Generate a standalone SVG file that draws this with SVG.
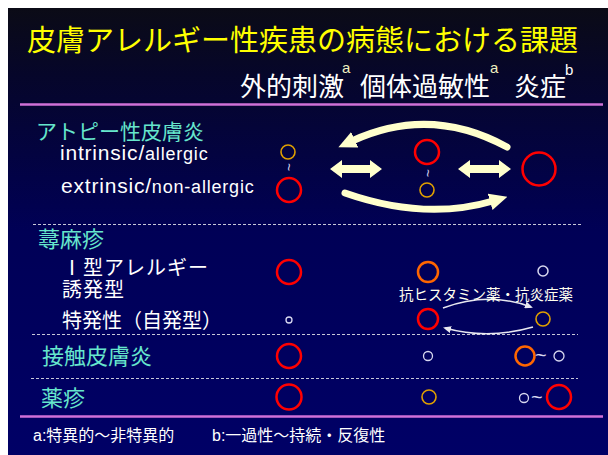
<svg xmlns="http://www.w3.org/2000/svg" width="608" height="455" viewBox="0 0 608 455">
<defs>
<linearGradient id="bg" x1="0" y1="0" x2="0" y2="1">
<stop offset="0" stop-color="#0b0b16"/>
<stop offset="0.15" stop-color="#06062a"/>
<stop offset="0.5" stop-color="#000056"/>
<stop offset="1" stop-color="#000066"/>
</linearGradient>
<marker id="bigHead" viewBox="0 0 18 17" refX="3" refY="8.5" markerWidth="18" markerHeight="17" markerUnits="userSpaceOnUse" orient="auto">
<path d="M0 0 L18 8.5 L0 17 Z" fill="#ffffcc"/>
</marker>
<marker id="smallHead" viewBox="0 0 8 7" refX="6" refY="3.5" markerWidth="8" markerHeight="7" markerUnits="userSpaceOnUse" orient="auto">
<path d="M0 0 L8 3.5 L0 7 Z" fill="#e8e8f0"/>
</marker>
</defs>
<style>
.jp{font-family:"Liberation Sans","Noto Sans CJK JP",sans-serif;}
.title{font-size:29px;fill:#ffff00;}
.sub{font-size:26px;fill:#ffffff;}
.sup{font-size:15px;font-family:"Liberation Sans",sans-serif;}
.head{font-size:22px;fill:#66e6cc;}
.lbl{font-size:20px;fill:#ffffff;}
.en{font-family:"Liberation Sans",sans-serif;fill:#ffffff;letter-spacing:0.8px;}
.foot{font-size:16px;fill:#ffffff;}
.red{fill:none;stroke:#ff0000;stroke-width:2.5;}
.orange{fill:none;stroke:#ff6600;stroke-width:2.5;}
.gold{fill:none;stroke:#e0a000;stroke-width:1.6;}
.tiny{fill:none;stroke:#d8d8f0;stroke-width:1.3;}
.purple{stroke:#d070d8;stroke-width:2.5;}
.dash{stroke:#c8c8d8;stroke-width:1;stroke-dasharray:3 2;}
.wave{font-family:"Liberation Sans",sans-serif;fill:#d8d8f0;}
.big{fill:none;stroke:#ffffcc;stroke-width:7;stroke-linecap:round;}
.thin{fill:none;stroke:#e8e8f0;stroke-width:1.5;}
.block{fill:#ffffcc;}
</style>
<rect x="0" y="0" width="608" height="455" fill="#ffffff"/>
<rect x="8" y="8" width="600" height="447" fill="url(#bg)"/>

<g id="title"><text class="jp title" x="27" y="51">皮膚アレルギー性疾患の病態における課題</text></g>

<g id="col-headers">
<text class="jp sub" x="240" y="96">外的刺激</text>
<text class="sup" x="342" y="73" fill="#f0f0c0">a</text>
<text class="jp sub" x="360" y="96">個体過敏性</text>
<text class="sup" x="490" y="73" fill="#f0f0c0">a</text>
<text class="jp sub" x="514" y="96">炎症</text>
<text class="sup" x="565" y="75" fill="#ffffff">b</text>
</g>

<g id="rules">
<line class="purple" x1="20" y1="104.5" x2="603" y2="104.5"/>
<line class="dash" x1="33" y1="224.5" x2="582" y2="224.5"/>
<line class="dash" x1="32" y1="334.5" x2="578" y2="334.5"/>
<line class="dash" x1="31" y1="378.5" x2="578" y2="378.5"/>
<line class="purple" x1="20" y1="416.5" x2="603" y2="416.5"/>
</g>

<g id="row-atopy">
<text class="jp head" x="36" y="139" style="font-size:21px">アトピー性皮膚炎</text>
<text class="en" x="60" y="160"><tspan font-size="21">intrinsic/</tspan><tspan font-size="18">allergic</tspan></text>
<text class="en" x="61" y="193"><tspan font-size="21">extrinsic/</tspan><tspan font-size="18">non-allergic</tspan></text>
<circle class="gold" cx="288" cy="152" r="7"/>
<text class="wave" font-size="14" transform="translate(288 167) rotate(90)" text-anchor="middle" dy="4">~</text>
<circle class="red" cx="289" cy="190" r="12"/>
<circle class="red" cx="427" cy="152" r="12"/>
<text class="wave" font-size="14" transform="translate(427 173) rotate(90)" text-anchor="middle" dy="4">~</text>
<circle class="gold" cx="427" cy="190" r="7"/>
<circle class="red" cx="539" cy="169" r="16.5"/>
</g>

<g id="connectors">
<polygon class="block" points="330,169 342,160 342,165 370,165 370,160 382,169 370,178 370,173 342,173 342,178"/>
<polygon class="block" points="458,169 470,160 470,165 499,165 499,160 511,169 499,178 499,173 470,173 470,178"/>
<path class="big" d="M507 147 Q430 105 352 141" marker-end="url(#bigHead)"/>
<path class="big" d="M345 193 Q425 221 493 201" marker-end="url(#bigHead)"/>
<path class="thin" d="M443 308 Q488 291 531 307" marker-end="url(#smallHead)"/>
<path class="thin" d="M533 327 Q488 340 445 328" marker-end="url(#smallHead)"/>
</g>

<g id="row-urticaria">
<text class="jp head" x="38" y="247">蕁麻疹</text>
<text class="jp lbl" x="62" y="275" style="letter-spacing:1px">Ⅰ型アレルギー</text>
<text class="jp lbl" x="62" y="297" style="letter-spacing:1px">誘発型</text>
<text class="jp lbl" x="62" y="328">特発性（自発型）</text>
<circle class="red" cx="289" cy="272" r="12"/>
<circle class="tiny" cx="289" cy="320" r="3"/>
<circle class="orange" cx="428" cy="272" r="10"/>
<circle class="tiny" cx="543" cy="271" r="5" style="stroke-width:1.5"/>
<text class="jp" x="399" y="300" style="font-size:14.5px;fill:#ffffee">抗ヒスタミン薬・抗炎症薬</text>
<circle class="red" cx="428" cy="319" r="10"/>
<circle class="gold" cx="543" cy="319" r="7"/>
</g>

<g id="row-contact">
<text class="jp head" x="42" y="364">接触皮膚炎</text>
<circle class="red" cx="289" cy="356" r="12"/>
<circle class="tiny" cx="428" cy="356" r="4.5"/>
<circle class="orange" cx="525" cy="356" r="9.5"/>
<text class="wave" x="535" y="362" font-size="20">~</text>
<circle class="tiny" cx="559" cy="356" r="5"/>
</g>

<g id="row-drug">
<text class="jp head" x="41" y="406">薬疹</text>
<circle class="red" cx="289" cy="397" r="12.5"/>
<circle class="gold" cx="429" cy="397" r="7"/>
<circle class="tiny" cx="524" cy="398" r="4.5"/>
<text class="wave" x="531" y="404" font-size="20">~</text>
<circle class="red" cx="559" cy="397" r="12"/>
</g>

<g id="footnotes">
<text class="jp foot" x="33" y="441">a:特異的～非特異的</text>
<text class="jp foot" x="212" y="441">b:一過性～持続・反復性</text>
</g>
</svg>
